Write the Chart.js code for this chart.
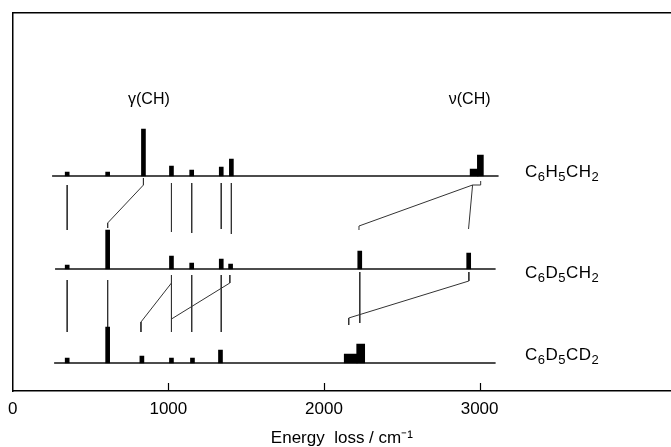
<!DOCTYPE html>
<html>
<head>
<meta charset="utf-8">
<script src="https://cdn.jsdelivr.net/npm/chart.js@4.4.1/dist/chart.umd.min.js"></script>
<style>
  html, body { margin: 0; padding: 0; background: #fff; }
  #wrap { width: 671px; height: 447px; }
</style>
</head>
<body>
<div id="wrap"><canvas id="c" width="671" height="447"></canvas></div>
<script>
// EELS spectra, energy loss in cm-1, intensities in arbitrary units
const xTickValues = [0, 1000, 2000, 3000];

const species = ['C6H5CH2', 'C6D5CH2', 'C6D5CD2'];
const baselines = [215, 122, 28];          // vertical offset of each trace
const traceStart = [253, 272, 266];
const traceEnd = [3122, 3103, 3103];

// sharp loss peaks
const peakPosH = [350, 610, 840, 1020, 1150, 1340, 1405];
const peakIntH = [4, 4, 47, 10, 6, 9, 17];
const peakPosD = [350, 610, 1020, 1150, 1340, 1400, 2230, 2930];
const peakIntD = [4, 39, 13, 6, 10, 5, 18, 16];
const peakPosDD = [350, 610, 830, 1020, 1155, 1335];
const peakIntDD = [5, 36, 7, 5, 5, 13];

// broad stretch bands (two components each)
const bandPosH = [2965, 3005];
const bandIntH = [7, 21];
const bandPosDD = [2172, 2236];
const bandIntDD = [9, 19];

// correlation lines between traces: [cm-1, offset] pairs
const links = [
  [[350, 206], [350, 161]],
  [[840, 213], [840, 206], [610, 168], [610, 163]],
  [[1020, 208], [1020, 159]],
  [[1150, 208], [1150, 158]],
  [[1340, 208], [1340, 162]],
  [[1405, 208], [1405, 157]],
  [[2225, 161], [2225, 165], [2955, 206], [3007, 206], [3007, 210]],
  [[2929, 162], [2955, 206]],
  [[350, 111], [350, 59]],
  [[610, 111], [610, 59]],
  [[1020, 116], [1020, 59]],
  [[1020, 108], [824, 69], [824, 59]],
  [[1395, 116], [1395, 108], [1020, 72]],
  [[1150, 116], [1150, 59]],
  [[1340, 116], [1340, 59]],
  [[2230, 119], [2230, 68]],
  [[2931, 119], [2931, 110], [2159, 73], [2159, 66]]
];

const modeLabels = ['γ(CH)', 'ν(CH)'];
const modeLabelPos = [875, 2936];

const FONT = '"Liberation Sans", Arial, sans-serif';

function peakData(pos, ints, base) {
  return pos.map((p, i) => ({ x: p, y: [base, base + ints[i]] }));
}

function barSet(data, thickness) {
  return {
    type: 'bar',
    data: data,
    backgroundColor: '#000',
    borderWidth: 0,
    barThickness: thickness,
    grouped: false,
    order: 1
  };
}

function lineSet(points, color, width) {
  return {
    type: 'line',
    data: points.map(p => ({ x: p[0], y: p[1] })),
    borderColor: color,
    borderWidth: width,
    pointRadius: 0,
    fill: false,
    tension: 0,
    order: 2
  };
}

const datasets = [];
baselines.forEach((b, i) => {
  datasets.push(lineSet([[traceStart[i], b], [traceEnd[i], b]], '#111', 1.3));
});
links.forEach(l => datasets.push(lineSet(l, '#333', 1)));
datasets.push(barSet(peakData(peakPosH, peakIntH, baselines[0]), 4));
datasets.push(barSet(peakData(peakPosD, peakIntD, baselines[1]), 4));
datasets.push(barSet(peakData(peakPosDD, peakIntDD, baselines[2]), 4));
datasets.push(barSet(peakData([bandPosH[0]], [bandIntH[0]], baselines[0]), 8));
datasets.push(barSet(peakData([bandPosH[1]], [bandIntH[1]], baselines[0]), 6));
datasets.push(barSet(peakData([bandPosDD[0]], [bandIntDD[0]], baselines[2]), 13));
datasets.push(barSet(peakData([bandPosDD[1]], [bandIntDD[1]], baselines[2]), 8));

// species names with subscript digits, mode labels, inner x ticks
const labelPlugin = {
  id: 'labels',
  afterDraw(chart) {
    const ctx = chart.ctx;
    const xs = chart.scales.x;
    const ys = chart.scales.y;
    ctx.save();
    ctx.fillStyle = '#000';
    ctx.strokeStyle = '#000';

    // inner tick marks
    ctx.lineWidth = 1.2;
    xTickValues.slice(1).forEach(v => {
      const px = Math.round(xs.getPixelForValue(v)) + 0.5;
      ctx.beginPath();
      ctx.moveTo(px, ys.bottom);
      ctx.lineTo(px, ys.bottom - 8);
      ctx.stroke();
    });

    ctx.textBaseline = 'middle';
    ctx.textAlign = 'center';
    ctx.font = '16px ' + FONT;
    modeLabels.forEach((t, i) => {
      ctx.fillText(t, xs.getPixelForValue(modeLabelPos[i]), ys.getPixelForValue(291));
    });

    ctx.textAlign = 'left';
    const yOff = [-4, 4, -8];
    species.forEach((name, i) => {
      let x = 525;
      const y = ys.getPixelForValue(baselines[i]) + yOff[i];
      for (const ch of name) {
        if (/[0-9]/.test(ch)) {
          ctx.font = '13px ' + FONT;
          ctx.fillText(ch, x, y + 5);
          x += ctx.measureText(ch).width + 0.5;
        } else {
          ctx.font = '17px ' + FONT;
          ctx.fillText(ch, x, y);
          x += ctx.measureText(ch).width + 0.5;
        }
      }
    });
    ctx.restore();
  }
};

new Chart(document.getElementById('c'), {
  type: 'bar',
  data: { datasets: datasets },
  options: {
    responsive: false,
    animation: false,
    layout: { padding: { left: 12, right: 0, top: 13, bottom: 0 } },
    plugins: { legend: { display: false }, tooltip: { enabled: false } },
    scales: {
      x: {
        type: 'linear',
        position: 'bottom',
        min: 0,
        max: 4230,
        offset: false,
        afterBuildTicks: s => { s.ticks = xTickValues.map(v => ({ value: v })); },
        afterFit: s => { s.height = 56; },
        grid: { display: false, drawTicks: false },
        border: { display: true, color: '#000', width: 1.5 },
        ticks: {
          color: '#000',
          padding: 8,
          maxRotation: 0,
          font: { family: FONT, size: 17 },
          callback: v => String(v)
        },
        title: {
          display: true,
          text: 'Energy  loss / cm⁻¹',
          color: '#000',
          padding: { top: 3, bottom: 0 },
          font: { family: FONT, size: 17, lineHeight: 1 }
        }
      },
      xTop: {
        type: 'linear',
        position: 'top',
        min: 0,
        max: 4230,
        afterFit: s => { s.height = 0; },
        grid: { display: false, drawTicks: false },
        border: { display: true, color: '#000', width: 1.5 },
        ticks: { display: false }
      },
      y: {
        type: 'linear',
        min: 0,
        max: 378,
        afterFit: s => { s.width = 0; },
        grid: { display: false, drawTicks: false },
        border: { display: true, color: '#000', width: 1.5 },
        ticks: { display: false }
      }
    }
  },
  plugins: [labelPlugin]
});
</script>
</body>
</html>
